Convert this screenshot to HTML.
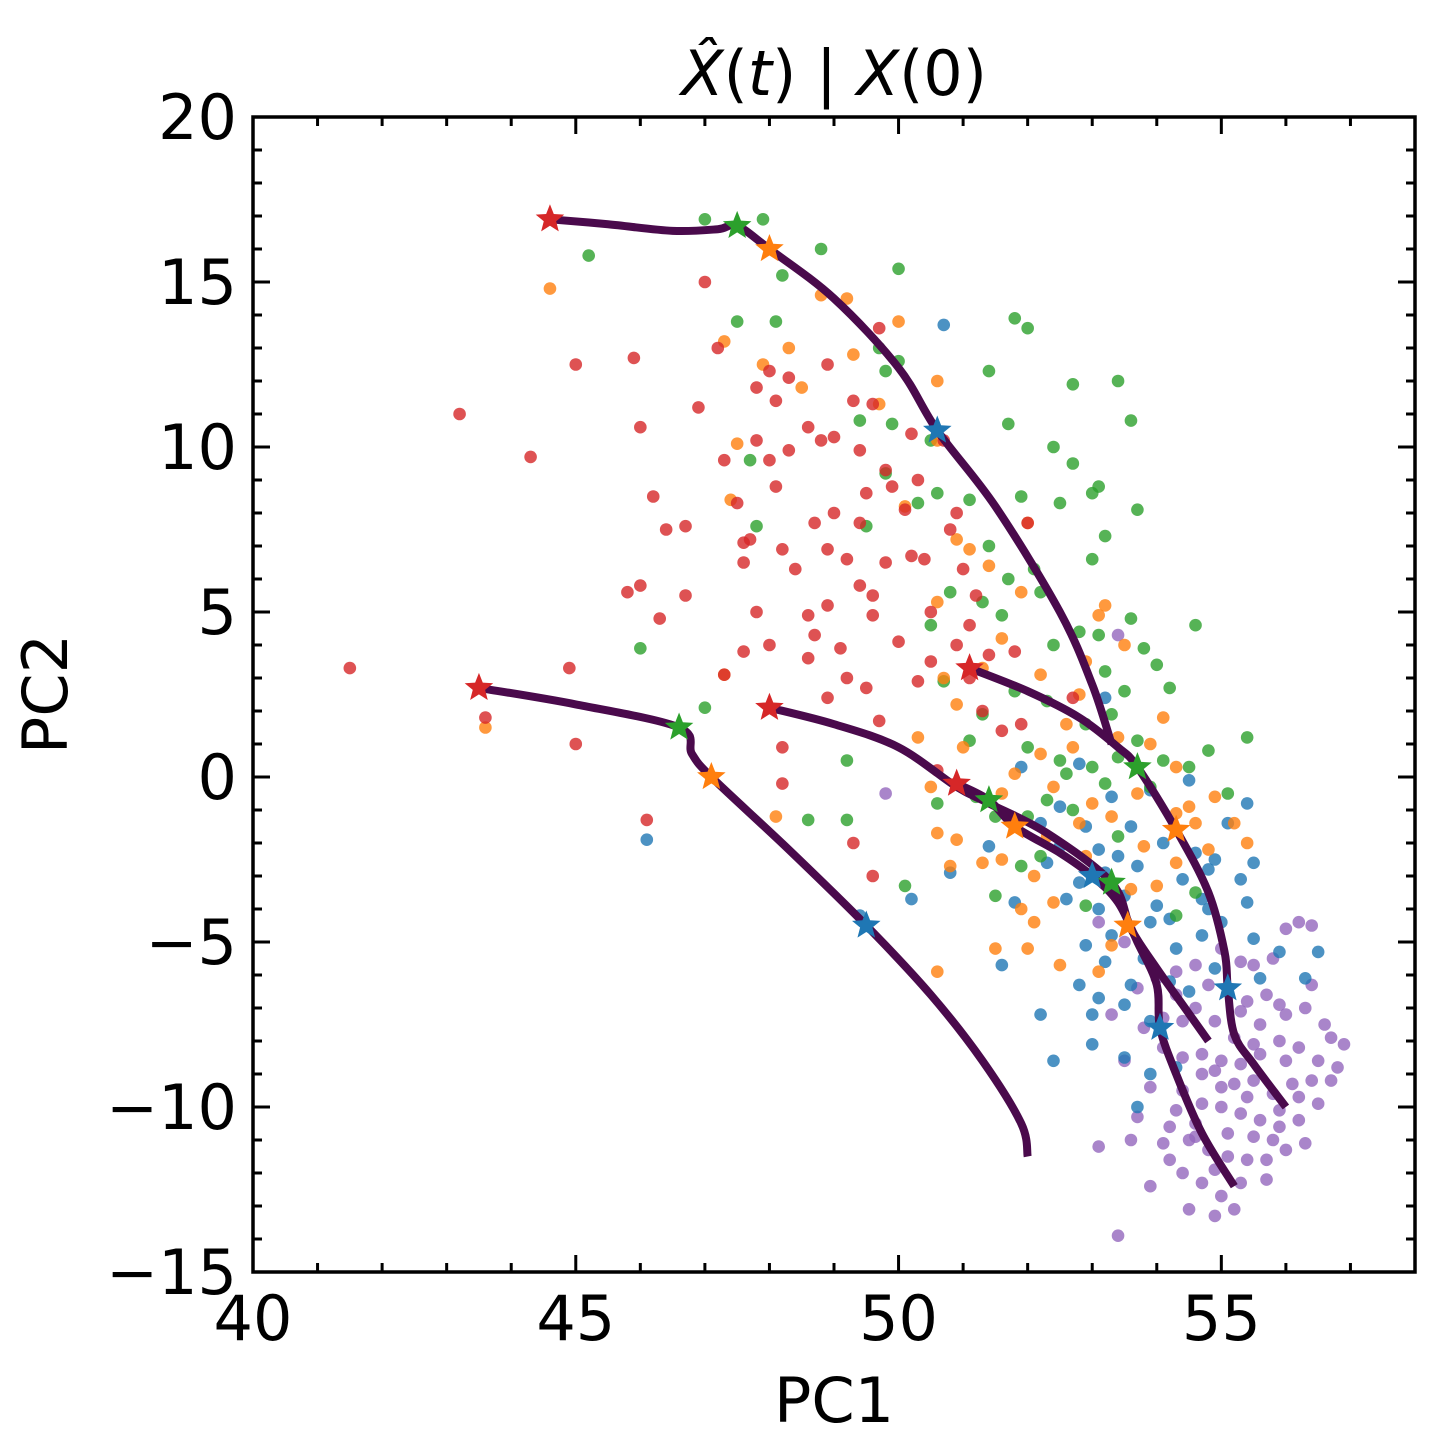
<!DOCTYPE html>
<html><head><meta charset="utf-8"><style>
html,body{margin:0;padding:0;background:#fff;}
svg text{font-family:"DejaVu Sans","Liberation Sans",sans-serif;fill:#000;}
</style></head><body>
<svg id="chart" width="1430" height="1450" viewBox="0 0 1430 1450" xmlns="http://www.w3.org/2000/svg">
<rect x="0" y="0" width="1430" height="1450" fill="#fff"/>
<text x="834" y="95" font-size="62" text-anchor="middle"><tspan font-style="italic">X̂</tspan>(<tspan font-style="italic">t</tspan>) | <tspan font-style="italic">X</tspan>(0)</text>
<g id="dots"></g>
<g id="lines"></g>
<g id="stars"></g>
<g id="axes"></g>
<text x="834" y="1422" font-size="62" text-anchor="middle">PC1</text>
<text x="50" y="694" font-size="62" text-anchor="middle" transform="rotate(-90 50 694)" dominant-baseline="middle">PC2</text>
</svg>
<script>
const xTicks=[40,45,50,55];
const yTicks=[20,15,10,5,0,-5,-10,-15];
const yTickLabels=["20","15","10","5","0","\u22125","\u221210","\u221215"];
const redPts=[[41.5,3.3],[43.2,11],[44.3,9.7],[45,12.5],[44.9,3.3],[45,1],[43.6,1.8],[46,10.6],[46.2,8.5],[45.8,5.6],[45.9,12.7],[46,5.8],[46.3,4.8],[46.4,7.5],[46.7,7.6],[46.7,5.5],[46.9,11.2],[47,15],[47.2,13],[47.3,9.6],[47.5,8.3],[47.6,7.1],[47.8,5],[47.6,3.8],[47.8,10.2],[47.8,11.8],[48,12.3],[48,9.6],[48.1,8.8],[48.2,6.9],[48,4],[48.3,12.1],[48.6,10.6],[48.7,7.7],[48.8,10.2],[48.9,12.5],[48.9,5.2],[49,8],[49.2,6.6],[49.3,11.4],[49.4,9.9],[49.4,7.7],[49.6,11.3],[49.8,9.3],[49.9,8.8],[49.7,13.6],[49.6,4.9],[49.5,2.7],[49.8,6.5],[50,4.1],[50.1,8.1],[50.2,10.4],[50.4,6.6],[50.5,5],[50.5,3.5],[50.7,10.2],[50.9,8],[51,6.3],[51.2,5.5],[51.1,3],[51.3,2],[51.6,1.4],[51.8,3.8],[51.9,1.6],[52,7.7],[52.7,2.4],[46.1,-1.3],[49.3,-2],[49.6,-3],[48.2,0.9],[48.2,-0.2],[47.3,3.1],[48.7,4.3],[48.6,3.6],[49.1,3.9],[49.7,1.7],[49.4,5.8],[47.6,6.5],[48.9,2.4],[50.6,0.2],[50.3,2.9],[49.5,8.6],[47.7,7.2],[48.4,6.3],[48.9,6.9],[49.6,5.5],[50.2,6.7],[50.8,7.5],[51.1,4.6],[48.6,4.9],[49.2,3.0],[50.9,4.0],[51.4,3.7],[48.3,9.9],[48.1,11.4],[49.0,10.3],[50.3,9.0]];
const greenPts=[[47,16.9],[47.9,16.9],[45.2,15.8],[47.5,13.8],[48.1,13.8],[47.7,9.6],[47.8,7.6],[47,2.1],[46,3.9],[48.8,16],[48.2,15.2],[49.4,10.8],[49.7,13],[49.8,12.3],[49.9,10.7],[50,15.4],[50,12.6],[49.8,9.2],[50.3,8.3],[50.5,10.2],[50.6,8.6],[50.5,4.6],[51.1,8.4],[51.4,12.3],[51.7,10.7],[51.8,13.9],[52,13.6],[51.4,7],[51.3,5.3],[51.6,4.9],[52.1,6.3],[52.2,5.6],[52.4,10],[52.5,8.3],[52.7,11.9],[52.7,9.5],[53,8.6],[53.1,8.8],[53.2,7.3],[53,6.6],[52.8,4.4],[53.1,4.3],[53.4,12],[53.6,10.8],[53.7,8.1],[53.2,3.2],[53.5,2.6],[53.6,4.8],[53.8,3.9],[54,3.4],[54.2,2.7],[54.6,4.6],[55.4,1.2],[54.8,0.8],[54.5,0.3],[53.4,0.6],[53,0.3],[52.6,0.1],[52.3,-0.7],[52,-1.2],[51.2,-0.6],[50.6,-0.8],[51.5,-3.6],[51.9,-2.7],[52.9,-3.9],[50.1,-3.3],[49.2,0.5],[48.6,-1.3],[49.2,-1.3],[50.7,2.9],[51.3,1.9],[52.3,2.3],[51.1,1.1],[52,0.9],[53.9,-0.3],[54.6,-3.5],[55.1,-0.5],[51.7,6.0],[52.4,4.0],[52.9,1.6],[53.3,1.9],[52.5,0.5],[51.8,2.6],[53.7,1.1],[54.1,0.5],[52.7,-1.0],[53.2,-0.2],[51.5,-1.2],[52.2,-2.4],[53.4,-1.8],[54.3,-4.2],[50.8,5.6],[49.5,7.6],[51.9,8.5]];
const orangePts=[[44.6,14.8],[43.6,1.5],[47.3,13.2],[47.5,10.1],[47.4,8.4],[47.3,3.1],[47.9,12.5],[48.3,13],[48.5,11.8],[48.8,14.6],[49.2,14.5],[49.3,12.8],[49.7,11.3],[50,13.8],[50.1,8.2],[50.6,12],[50.6,10.2],[50.6,5.3],[50.9,7.2],[51.1,6.9],[51.4,6.4],[51.6,4.2],[51.3,3.3],[52,7.7],[52.2,3.1],[52.6,1.6],[52.2,0.7],[52.7,0.9],[53.1,4.9],[53.2,5.2],[53.5,4],[53.4,1.2],[53.9,1],[54.1,1.8],[54.3,0.3],[54.5,-0.9],[54.9,-0.6],[55.2,-1.4],[55.4,-2],[54.8,-2.2],[54.3,-2.6],[53.8,-2.1],[53.3,-1.2],[52.8,-1.4],[52.3,-1.8],[52.1,-3],[52.4,-3.8],[51.6,-2.5],[51.3,-2.6],[50.9,-1.9],[50.6,-1.7],[50.5,-0.3],[50.3,1.2],[50.8,-2.7],[50.6,-5.9],[51.5,-5.2],[52,-5.2],[52.5,-5.7],[53.3,-5.1],[53.1,-5.9],[52.1,-4.4],[48.1,-1.2],[51.8,0.1],[52.8,2.5],[54.3,-1.1],[53.6,-3.4],[50.7,3.0],[51.0,0.9],[51.6,-0.5],[52.4,-0.3],[53.0,-0.8],[53.7,-0.5],[54.6,-1.4],[54.0,-3.3],[52.9,-2.4],[51.9,-4.0],[50.9,2.2],[51.9,5.6],[52.9,3.5]];
const bluePts=[[50.7,13.7],[46.1,-1.9],[49.4,-4.2],[50.2,-3.7],[50.8,-2.9],[51.6,-5.7],[52.2,-7.2],[52.4,-8.6],[52.8,-6.3],[53,-7.2],[53,-8.1],[53.2,-5.6],[53.5,-8.5],[53.9,-9],[54.3,-8.8],[53.7,-10],[53.1,-6.7],[53.6,-6.3],[54.5,-6.5],[54.9,-5.8],[55.6,-6.1],[56.3,-6.1],[55.5,-4.9],[55,-4.4],[54.7,-3.7],[55.4,-3.8],[55.5,-2.6],[55.4,-0.8],[55.1,-1.4],[54.9,-2.5],[54.4,-3.1],[54.2,-4.3],[53.9,-4.4],[53.5,-3.6],[53.2,-2.9],[53.1,-2.2],[52.9,-1.5],[53.3,-0.6],[53.9,-0.4],[54.5,-0.1],[52.8,0.4],[52.5,-0.9],[52.3,-2.6],[51.8,-3.8],[52.6,-3.7],[53.3,-4.8],[53.8,-5.5],[54.8,-2.8],[56.5,-5.3],[55.9,-5.3],[52.5,-2.1],[52.2,-1.4],[51.4,-2.1],[51.9,0.3],[53.2,2.4],[54.7,-4.8],[53.6,-1.5],[53.1,-4.0],[54.3,-5.2],[53.9,-7.4],[54.1,-2.0],[53.7,-2.7],[54.6,-2.3],[53.4,-2.4],[52.8,-3.2],[54.0,-3.9],[54.8,-4.0],[55.3,-3.1],[52.9,-5.1],[53.5,-6.9],[54.2,-6.2]];
const purplePts=[[53.4,4.3],[49.8,-0.5],[53.1,-4.4],[53.5,-5],[53.7,-6.4],[54,-6.1],[54.3,-5.9],[54.6,-5.7],[55,-5.2],[55.3,-5.6],[55.5,-5.7],[55.8,-5.5],[56,-4.6],[56.2,-4.4],[56.4,-4.5],[55.4,-6.8],[55.7,-6.6],[56,-7.2],[56.3,-7],[56.6,-7.5],[56.9,-8.1],[56.8,-8.8],[56.5,-8.6],[56.2,-8.2],[55.9,-8],[55.6,-8.4],[55.3,-8.7],[55.0,-8.6],[54.7,-8.4],[54.4,-7.4],[54.1,-7.3],[53.8,-7.6],[53.3,-7.2],[53.5,-8.6],[53.9,-9.4],[54.4,-9.5],[54.7,-9.9],[55.0,-10],[55.3,-10.2],[55.6,-10.4],[55.9,-10.6],[56.2,-10.4],[56.5,-9.9],[56.7,-9.2],[54.5,-11],[54.8,-11.3],[55.1,-11.5],[55.4,-11.6],[55.7,-11.6],[56.0,-11.3],[56.3,-11.1],[54.4,-12],[54.7,-12.3],[55.0,-12.7],[55.2,-13.1],[54.9,-13.3],[54.5,-13.1],[53.9,-12.4],[53.4,-13.9],[53.6,-11],[53.1,-11.2],[53.7,-10.3],[54.2,-10.6],[54.6,-10.5],[55.2,-9.3],[55.5,-9.2],[55.8,-9.6],[56.1,-9.3],[54.9,-7.4],[55.6,-7.5],[56.0,-8.6],[55.3,-7.1],[54.1,-8.2],[54.8,-6.3],[55.7,-12.2],[55.5,-10.9],[54.2,-11.6],[54.7,-9.0],[56.4,-6.3],[55.2,-7.9],[54.6,-7.0],[54.3,-6.6],[55.9,-6.9],[56.7,-7.9],[55.1,-10.8],[54.9,-11.9],[55.3,-12.3],[54.6,-10.9],[55.8,-11.0],[55.0,-9.4],[55.4,-9.7],[54.3,-10.1],[54.1,-11.1],[55.9,-10.1],[56.2,-9.7],[55.5,-8.1],[54.9,-8.9],[54.4,-8.5],[56.4,-9.2]];
const trajA=[[44.6,16.9],[45.5,16.75],[46.5,16.55],[47.2,16.6],[47.5,16.7],[48,16],[49,14.5],[50,12.4],[50.6,10.5],[51.5,8.2],[52.5,5],[53,2.8],[53.3,1.0]];
const trajB=[[51.1,3.3],[52,2.6],[52.8,1.8],[53.4,0.9],[53.7,0.3],[54.3,-1.6],[54.8,-3.5],[55.05,-5.3],[55.1,-6.4],[55.2,-7.8],[55.5,-8.7],[56,-10]];
const trajC=[[48,2.1],[49,1.6],[50,0.9],[50.9,-0.3],[51.4,-0.8],[52.3,-1.7],[53.3,-3.2],[53.6,-4.6],[54.0,-5.8],[54.4,-6.9],[54.8,-8.0]];
const trajD=[[50.9,-0.2],[51.4,-0.7],[51.8,-1.5],[52.5,-2.3],[53,-3.0],[53.4,-3.8],[53.7,-5.0],[54,-6.3],[54.05,-7.6],[54.3,-9.0],[54.7,-10.8],[55.2,-12.4]];
const trajE=[[43.5,2.7],[45,2.2],[46.6,1.5],[46.8,0.7],[47.1,0],[48.3,-2.2],[49.5,-4.5],[50.5,-6.6],[51.3,-8.6],[51.9,-10.5],[52,-11.5]];
const starsRed=[[44.6,16.9],[51.1,3.3],[48,2.1],[50.9,-0.2],[43.5,2.7]];
const starsGreen=[[47.5,16.7],[53.7,0.3],[53.3,-3.2],[51.4,-0.7],[46.6,1.5]];
const starsOrange=[[48,16],[54.3,-1.6],[53.55,-4.5],[51.8,-1.5],[47.1,0]];
const starsBlue=[[50.6,10.5],[55.1,-6.4],[54.05,-7.6],[53,-3.0],[49.5,-4.5]];

const L=253,R=1415,T=117,B=1272,X0=40,X1=58,Y0=-15,Y1=20;
const sx=v=>L+(v-X0)/(X1-X0)*(R-L);
const sy=v=>B-(v-Y0)/(Y1-Y0)*(B-T);
const NS='http://www.w3.org/2000/svg';
function mk(tag,parent){const e=document.createElementNS(NS,tag);parent.appendChild(e);return e;}

const dots=document.getElementById('dots');
[[purplePts,'#9467bd','purple'],[bluePts,'#1f77b4','blue'],[greenPts,'#2ca02c','green'],[orangePts,'#ff7f0e','orange'],[redPts,'#d62728','red']].forEach(([pts,col,nm])=>{
  pts.forEach(p=>{
    const c=mk('circle',dots);
    
    
    c.setAttribute('cx',sx(p[0]));c.setAttribute('cy',sy(p[1]));c.setAttribute('r',6.3);
    c.setAttribute('fill',col);c.setAttribute('fill-opacity',0.8);
  });
});

function smooth(pts){
  const P=pts.map(p=>[sx(p[0]),sy(p[1])]);
  let d='M'+P[0][0]+','+P[0][1];
  for(let i=0;i<P.length-1;i++){
    const p0=P[i-1]||P[i],p1=P[i],p2=P[i+1],p3=P[i+2]||P[i+1];
    const c1=[p1[0]+(p2[0]-p0[0])/6,p1[1]+(p2[1]-p0[1])/6];
    const c2=[p2[0]-(p3[0]-p1[0])/6,p2[1]-(p3[1]-p1[1])/6];
    d+=' C'+c1[0]+','+c1[1]+' '+c2[0]+','+c2[1]+' '+p2[0]+','+p2[1];
  }
  return d;
}
const lines=document.getElementById('lines');
[[trajA,'a'],[trajB,'b'],[trajC,'c'],[trajD,'d'],[trajE,'e']].forEach(([t,n])=>{
  const p=mk('path',lines);
  
  
  p.setAttribute('d',smooth(t));p.setAttribute('fill','none');
  p.setAttribute('stroke','#4a0a4c');p.setAttribute('stroke-width',8);
});

function starPath(cx,cy,ro,ri){
  let d='';
  for(let i=0;i<10;i++){const r=i%2?ri:ro;const a=-Math.PI/2+i*Math.PI/5;d+=(i?'L':'M')+(cx+r*Math.cos(a))+','+(cy+r*Math.sin(a));}
  return d+'Z';
}
const stars=document.getElementById('stars');
[[starsRed,'#d62728','red'],[starsGreen,'#2ca02c','green'],[starsOrange,'#ff7f0e','orange'],[starsBlue,'#1f77b4','blue']].forEach(([pts,col,nm])=>{
  pts.forEach(p=>{
    const s=mk('path',stars);
    
    
    s.setAttribute('d',starPath(sx(p[0]),sy(p[1]),15,6.5));s.setAttribute('fill',col);
  });
});

const axes=document.getElementById('axes');
const frame=mk('rect',axes);


frame.setAttribute('x',L);frame.setAttribute('y',T);frame.setAttribute('width',R-L);frame.setAttribute('height',B-T);
frame.setAttribute('fill','none');frame.setAttribute('stroke','#000');frame.setAttribute('stroke-width',3.5);
function tick(x1,y1,x2,y2){const l=mk('line',axes);l.setAttribute('x1',x1);l.setAttribute('y1',y1);l.setAttribute('x2',x2);l.setAttribute('y2',y2);l.setAttribute('stroke','#000');l.setAttribute('stroke-width',3);

}
for(let v=X0;v<=X1;v++){const len=(v%5===0)?17:9;const x=sx(v);tick(x,B,x,B-len);tick(x,T,x,T+len);}
for(let v=Y0;v<=Y1;v++){const len=(v%5===0)?17:9;const y=sy(v);tick(L,y,L+len,y);tick(R,y,R-len,y);}
xTicks.forEach(v=>{const t=mk('text',axes);


t.setAttribute('x',sx(v));t.setAttribute('y',B+68);t.setAttribute('font-size',62);t.setAttribute('text-anchor','middle');t.textContent=String(v);});
yTicks.forEach((v,i)=>{const t=mk('text',axes);


t.setAttribute('x',L-16);t.setAttribute('y',sy(v)+22);t.setAttribute('font-size',62);t.setAttribute('text-anchor','end');t.textContent=yTickLabels[i];});
</script>
</body></html>
